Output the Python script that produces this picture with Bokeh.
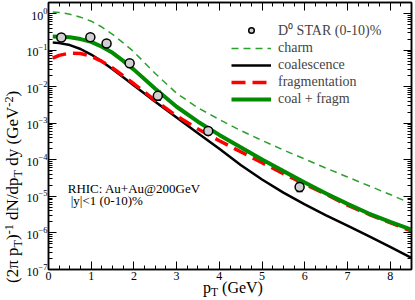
from bokeh.plotting import figure
from bokeh.layouts import row, column
from bokeh.models import (Range1d, LinearAxis, FixedTicker, SingleIntervalTicker, Div,
                          Label, Legend, LegendItem, Whisker, ColumnDataSource, CustomJSTickFormatter)
from bokeh.embed import file_html
from bokeh.resources import INLINE

# ---------------- data ----------------
pt_curve = [0.1, 0.25, 0.5, 0.75, 1.0, 1.25, 1.5, 1.75, 2.0, 2.5, 3.0, 3.5,
            4.0, 4.5, 5.0, 5.5, 6.0, 6.5, 7.0, 7.5, 8.0, 8.5]
charm = [1.096, 1.072, 0.955, 0.794, 0.617, 0.427, 0.269, 0.158, 0.0891, 0.0229, 6.61e-3, 2.63e-3,
         1.26e-3, 6.31e-4, 3.39e-4, 1.86e-4, 1.05e-4, 5.89e-5, 3.39e-5, 1.95e-5, 1.12e-5, 6.31e-6]
coalescence = [0.162, 0.155, 0.137, 0.107, 0.0755, 0.0490, 0.0301, 0.0180, 0.0107, 3.87e-3, 1.44e-3, 5.35e-4,
               1.99e-4, 7.24e-5, 2.88e-5, 1.26e-5, 6.03e-6, 3.02e-6, 1.58e-6, 8.13e-7, 4.17e-7, 2.09e-7]
fragmentation = [0.0603, 0.0716, 0.0828, 0.0804, 0.0676, 0.0490, 0.0324, 0.0197, 0.0120, 4.17e-3, 1.58e-3, 6.92e-4,
                 3.31e-4, 1.66e-4, 8.32e-5, 4.17e-5, 2.14e-5, 1.14e-5, 5.75e-6, 3.24e-6, 1.91e-6, 1.12e-6]
coal_fragm = [0.234, 0.232, 0.224, 0.200, 0.168, 0.123, 0.0841, 0.0507, 0.0292, 8.71e-3, 2.82e-3, 1.10e-3,
              4.79e-4, 2.19e-4, 1.02e-4, 4.90e-5, 2.40e-5, 1.20e-5, 6.24e-6, 3.39e-6, 2.00e-6, 1.23e-6]

star_pt = [0.3, 0.98, 1.36, 1.9, 2.56, 3.74, 5.88]
star_val = [0.22, 0.226, 0.152, 0.0436, 0.0056, 6.1e-4, 1.8e-5]
star_lo = [0.18, 0.20, 0.135, 0.039, 0.0042, 5.0e-4, 1.35e-5]
star_hi = [0.27, 0.25, 0.17, 0.048, 0.0076, 7.6e-4, 2.4e-5]

y_decades = [1e-7, 1e-6, 1e-5, 1e-4, 1e-3, 1e-2, 1e-1, 1e0]
y_minor = [k * d for d in y_decades[:-1] for k in range(2, 10)]

legend_labels = ["D\u2070 STAR (0-10)%", "charm", "coalescence", "fragmentation", "coal + fragm"]

FONT = "Liberation Serif"

p = figure(width=392, height=282, y_axis_type="log", output_backend="svg",
           toolbar_location=None, x_range=Range1d(0, 8.5), y_range=Range1d(1e-7, 2),
           min_border_left=23, min_border_right=4, min_border_top=2, min_border_bottom=13)
p.margin = (0, 0, 0, 0)
p.xgrid.visible = False
p.ygrid.visible = False
p.outline_line_color = "black"
p.outline_line_width = 1.5
p.background_fill_color = "white"
p.border_fill_color = "white"

xt = SingleIntervalTicker(interval=1, num_minor_ticks=4)
yt = FixedTicker(ticks=y_decades, minor_ticks=y_minor)

def style_axis(ax):
    ax.major_tick_in = 8
    ax.major_tick_out = 0
    ax.minor_tick_in = 4
    ax.minor_tick_out = 0
    ax.major_tick_line_color = "black"
    ax.minor_tick_line_color = "black"
    ax.axis_line_color = "black"
    ax.axis_line_width = 1.5
    ax.major_label_text_font = FONT
    ax.major_label_text_font_size = "12px"
    ax.major_label_text_color = "black"
    ax.major_label_standoff = 2

p.xaxis.ticker = xt
p.yaxis.ticker = yt
style_axis(p.xaxis[0])
style_axis(p.yaxis[0])
p.yaxis.major_label_standoff = 1

top = LinearAxis(ticker=xt, formatter=CustomJSTickFormatter(code="return ''"))
style_axis(top)
top.major_label_standoff = 0
top.major_label_text_font_size = "1px"
p.add_layout(top, "above")
right = LinearAxis(ticker=yt, formatter=CustomJSTickFormatter(code="return ''"))
style_axis(right)
right.major_label_standoff = 0
right.major_label_text_font_size = "1px"
p.add_layout(right, "right")

# ---------------- curves ----------------
r_charm = p.line(pt_curve, charm, line_color="#2ca02c", line_width=1.5, line_dash="7 5")
r_coal = p.line(pt_curve, coalescence, line_color="black", line_width=2.5)
r_frag = p.line(pt_curve, fragmentation, line_color="#ff0000", line_width=3.5, line_dash="14 7")
r_cf = p.line(pt_curve, coal_fragm, line_color="#008b00", line_width=4)

src = ColumnDataSource(dict(x=star_pt, y=star_val, lo=star_lo, hi=star_hi))
wh = Whisker(source=src, base="x", lower="lo", upper="hi", dimension="height",
             line_color="black", line_width=1.2)
wh.upper_head.size = 6
wh.lower_head.size = 6
wh.upper_head.line_width = 1.2
wh.lower_head.line_width = 1.2
p.add_layout(wh)
r_star = p.scatter("x", "y", source=src, marker="circle", size=9, fill_color="#d0d0d0",
                   line_color="black", line_width=1.5)

legend = Legend(items=[LegendItem(label=lab, renderers=[r]) for lab, r in
                       zip(legend_labels, [r_star, r_charm, r_coal, r_frag, r_cf])],
                location=(183, 162))
legend.background_fill_alpha = 0
legend.border_line_color = None
legend.padding = 0
legend.margin = 0
legend.spacing = 1
legend.glyph_width = 40
legend.glyph_height = 14
legend.label_height = 14
legend.label_standoff = 7
legend.label_text_font = FONT
legend.label_text_font_size = "14px"
legend.label_text_baseline = "middle"
p.add_layout(legend)

# ---------------- texts ----------------
p.add_layout(Label(x=0.45, y=10 ** -4.775, text="RHIC: Au+Au@200GeV", text_font=FONT,
                   text_font_size="13px", text_baseline="alphabetic", text_color="black"))
p.add_layout(Label(x=0.52, y=10 ** -5.12, text="|y|<1 (0-10)%", text_font=FONT,
                   text_font_size="13px", text_baseline="alphabetic", text_color="black"))

def sup(s):
    return f'<span style="font-size:0.72em;position:relative;top:-0.45em">{s}</span>'

def sub(s):
    return f'<span style="font-size:0.72em;position:relative;top:0.3em">{s}</span>'

y_title_html = f"(2\u03c0 p{sub('T')}){sup('-1')} dN/dp{sub('T')} dy (GeV{sup('-2')})"
x_title_html = f"p{sub('T')} (GeV)"

ydiv = Div(width=23, height=282, margin=(0, 0, 0, 0), styles={"overflow": "visible"},
           text=(f'<div style="position:absolute;left:4px;top:283px;transform:rotate(-90deg);'
                 f'transform-origin:0 0;white-space:nowrap;font-family:\'{FONT}\';font-size:17px;'
                 f'line-height:17px;color:black">{y_title_html}</div>'))
xdiv = Div(width=415, height=18, margin=(0, 0, 0, 0), styles={"overflow": "visible"},
           text=(f'<div style="position:absolute;left:203px;top:-3px;white-space:nowrap;'
                 f'font-family:\'{FONT}\';font-size:16px;line-height:18px;color:black">{x_title_html}</div>'))

layout = column(row(ydiv, p, spacing=0), xdiv, spacing=0)

open("out.html", "w").write(file_html(layout, INLINE))
